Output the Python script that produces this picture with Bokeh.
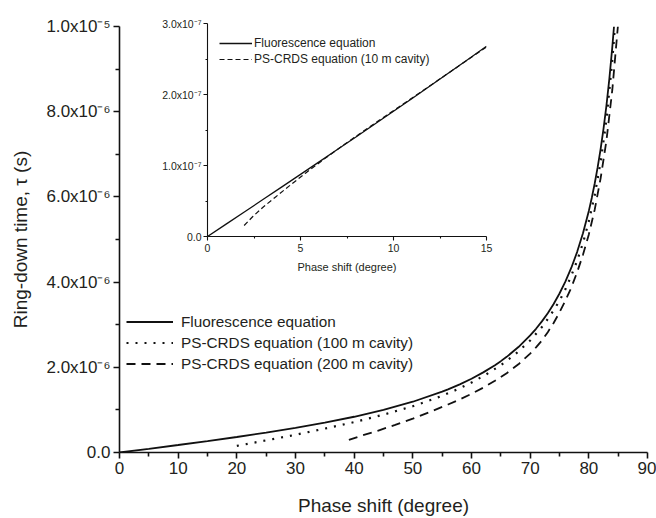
import numpy as np
from bokeh.plotting import figure
from bokeh.models import FixedTicker, Legend, LegendItem, Range1d
from bokeh.embed import file_html
from bokeh.resources import INLINE

FONT = "Liberation Sans"
TXT = "#231f20"
INK = "#111111"

# ---------------- main chart data (tau in units of 1e-6 s) ----------------
phase_fluor = [0, 5, 10, 15, 20, 25, 30, 35, 40, 45, 50, 55, 56, 58, 60, 62, 64, 65, 66, 68, 70, 71, 72,
               73, 74, 75, 76, 77, 78, 79, 80, 80.5, 81, 81.5, 82, 82.5, 83, 83.5, 84, 84.29]
tau_fluor = [0, 0.0875, 0.1763, 0.2679, 0.364, 0.4663, 0.5774, 0.7002, 0.8391, 1.0, 1.1918, 1.4281,
             1.4826, 1.6003, 1.7321, 1.8807, 2.0503, 2.1445, 2.2460, 2.4751, 2.7475, 2.9042, 3.0777,
             3.2709, 3.4874, 3.7321, 4.0108, 4.3315, 4.7046, 5.1446, 5.6713, 5.9758, 6.3138, 6.6912,
             7.1154, 7.5958, 8.1443, 8.7769, 9.5144, 10.0]

phase_100m = [20, 22, 25, 30, 35, 40, 45, 50, 52.5, 55, 57.5, 60, 62.5, 65, 67.5, 70, 72, 73, 74, 75,
              76, 77, 78, 79, 80, 81, 82, 83, 84, 84.45]
tau_100m = [0.155, 0.207, 0.285, 0.416, 0.561, 0.713, 0.888, 1.087, 1.2045, 1.332, 1.4755, 1.641,
            1.8326, 2.050, 2.3109, 2.628, 2.946, 3.1334, 3.337, 3.564, 3.83, 4.1486, 4.50, 4.9152,
            5.429, 6.04, 6.813, 7.806, 9.205, 10.0]

phase_200m = [39.1, 41, 44, 47, 50, 53, 56, 58, 60, 62, 64, 66, 68, 70, 71, 72, 73, 74, 75, 76, 77,
              78, 79, 80, 81, 82, 83, 84, 84.95]
tau_200m = [0.294, 0.384, 0.510, 0.649, 0.795, 0.956, 1.126, 1.2465, 1.376, 1.5224, 1.684, 1.8624,
            2.07, 2.323, 2.4677, 2.628, 2.825, 3.041, 3.29, 3.564, 3.8667, 4.23, 4.6397, 5.12, 5.70,
            6.43, 7.32, 8.51, 10.0]

main_x_ticks = [0, 10, 20, 30, 40, 50, 60, 70, 80, 90]
main_y_ticks = [0, 2, 4, 6, 8, 10]
main_y_labels = ["0.0", "2.0x10\u207b\u2076", "4.0x10\u207b\u2076", "6.0x10\u207b\u2076",
                 "8.0x10\u207b\u2076", "1.0x10\u207b\u2075"]

# ---------------- inset data (tau in units of 1e-7 s) ----------------
inset_phase_fluor = [0, 1, 2, 3, 4, 5, 6, 7, 8, 9, 10, 11, 12, 13, 14, 15]
inset_tau_fluor = [0, 0.1746, 0.3492, 0.5241, 0.6993, 0.8749, 1.051, 1.228, 1.405, 1.584, 1.763,
                   1.944, 2.126, 2.309, 2.493, 2.679]
inset_phase_10m = [1.97, 2.45, 3.0, 3.68, 4.4, 5.25, 6.25, 7.55, 9.25, 11.55, 15.0]
inset_tau_10m = [0.155, 0.285, 0.416, 0.561, 0.713, 0.888, 1.087, 1.332, 1.641, 2.05, 2.669]

inset_x_ticks = [0, 5, 10, 15]
inset_y_ticks = [0, 1, 2, 3]
inset_y_labels = ["0.0", "1.0x10\u207b\u2077", "2.0x10\u207b\u2077", "3.0x10\u207b\u2077"]


def style_axes(fig, xt, xminor, yt, yminor, ylabels, tick_size, title_size, lw):
    fig.xaxis.ticker = FixedTicker(ticks=xt, minor_ticks=xminor)
    fig.yaxis.ticker = FixedTicker(ticks=yt, minor_ticks=yminor)
    fig.yaxis.major_label_overrides = {t: l for t, l in zip(yt, ylabels)}
    fig.xaxis.major_label_overrides = {t: str(t) for t in xt}
    for ax in (fig.xaxis, fig.yaxis):
        ax.axis_line_color = INK
        ax.axis_line_width = lw
        ax.major_tick_line_color = INK
        ax.minor_tick_line_color = INK
        ax.major_tick_line_width = lw
        ax.minor_tick_line_width = lw
        ax.major_tick_in = 0
        ax.minor_tick_in = 0
        ax.major_label_text_font = FONT
        ax.major_label_text_font_size = tick_size
        ax.major_label_text_color = TXT
        ax.axis_label_text_font = FONT
        ax.axis_label_text_font_size = title_size
        ax.axis_label_text_font_style = "normal"
        ax.axis_label_text_color = TXT
    fig.xgrid.visible = False
    fig.ygrid.visible = False
    fig.outline_line_color = None


# ---------------- main figure ----------------
p = figure(width=656, height=518, x_range=Range1d(0, 90), y_range=Range1d(0, 10),
           output_backend="svg", toolbar_location=None,
           min_border_left=119, min_border_right=9, min_border_top=26, min_border_bottom=65)
p.background_fill_alpha = 0
p.border_fill_alpha = 0
style_axes(p, main_x_ticks, [5, 15, 25, 35, 45, 55, 65, 75, 85], main_y_ticks, [1, 3, 5, 7, 9],
           main_y_labels, "17px", "19px", 1.6)
p.xaxis.major_tick_out = 6
p.xaxis.minor_tick_out = 4
p.yaxis.major_tick_out = 6
p.yaxis.minor_tick_out = 4
p.xaxis.axis_label = "Phase shift (degree)"
p.yaxis.axis_label = "Ring-down time, \u03c4 (s)"
p.xaxis.major_label_standoff = 3
p.yaxis.major_label_standoff = 3
p.xaxis.axis_label_standoff = 18
p.yaxis.axis_label_standoff = 12

r1 = p.line(phase_fluor, tau_fluor, line_color=INK, line_width=1.8)
r2 = p.line(phase_100m, tau_100m, line_color=INK, line_width=2.2, line_dash="2 7")
r3 = p.line(phase_200m, tau_200m, line_color=INK, line_width=1.8, line_dash="9 6")

leg = Legend(items=[LegendItem(label="Fluorescence equation", renderers=[r1]),
                    LegendItem(label="PS-CRDS equation (100 m cavity)", renderers=[r2]),
                    LegendItem(label="PS-CRDS equation (200 m cavity)", renderers=[r3])],
             location=(7, 78), border_line_color=None, background_fill_alpha=0,
             label_text_font=FONT, label_text_font_size="15.3px", label_text_color=TXT,
             glyph_width=47, glyph_height=21, label_height=21, spacing=0, padding=2,
             margin=0, label_standoff=8)
p.add_layout(leg)

# ---------------- inset figure ----------------
ins = figure(width=339, height=262, x_range=Range1d(0, 15), y_range=Range1d(0, 3),
             output_backend="svg", toolbar_location=None,
             min_border_left=50, min_border_right=10, min_border_top=10, min_border_bottom=35,
             styles={"position": "absolute", "left": "157px", "top": "13px"})
ins.background_fill_alpha = 0
ins.border_fill_alpha = 0
style_axes(ins, inset_x_ticks, [2.5, 7.5, 12.5], inset_y_ticks, [0.5, 1.5, 2.5],
           inset_y_labels, "10.5px", "11px", 1.1)
ins.xaxis.major_tick_out = 4
ins.xaxis.minor_tick_out = 2
ins.yaxis.major_tick_out = 4
ins.yaxis.minor_tick_out = 2
ins.xaxis.axis_label = "Phase shift (degree)"
ins.xaxis.major_label_standoff = 3
ins.yaxis.major_label_standoff = 2
ins.xaxis.axis_label_standoff = 6

s1 = ins.line(inset_phase_fluor, inset_tau_fluor, line_color=INK, line_width=1.3)
s2 = ins.line(inset_phase_10m, inset_tau_10m, line_color=INK, line_width=1.2, line_dash="5 3")

ileg = Legend(items=[LegendItem(label="Fluorescence equation", renderers=[s1]),
                     LegendItem(label="PS-CRDS equation (10 m cavity)", renderers=[s2])],
              location=(12, 169), border_line_color=None, background_fill_alpha=0,
              label_text_font=FONT, label_text_font_size="12px", label_text_color=TXT,
              glyph_width=33, glyph_height=16, label_height=16, spacing=0, padding=2,
              margin=0, label_standoff=2)
ins.add_layout(ileg)

open("out.html", "w").write(file_html([p, ins], INLINE))
